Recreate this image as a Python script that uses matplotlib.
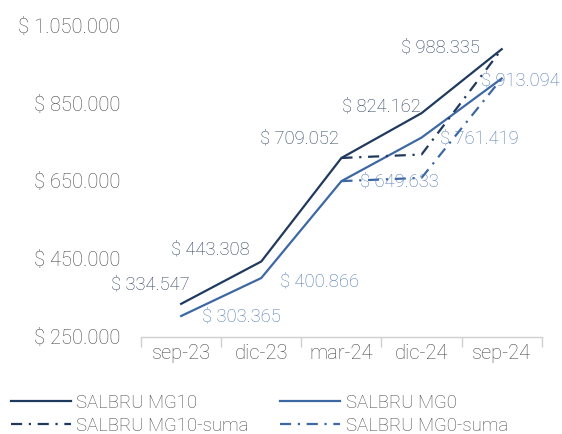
import numpy as np
import matplotlib.pyplot as plt

plt.rcParams['font.family'] = ['Roboto', 'DejaVu Sans']

# datos
periodos = ['sep-23', 'dic-23', 'mar-24', 'dic-24', 'sep-24']
mg10 = [334547, 443308, 709052, 824162, 988335]
mg0 = [303365, 400866, 649633, 761419, 913094]
mg10_suma = [np.nan, np.nan, 709052, 718000, 988335]
mg0_suma = [np.nan, np.nan, 649633, 658000, 913094]

c_dark = '#203a5e'
c_blue = '#3d68a3'
c_lbl_dark = '#2b3f5e'
c_lbl_blue = '#4f78b2'
c_txt = '#484848'


def fmt(v):
    return '$ ' + f'{v:,.0f}'.replace(',', '.')


fig = plt.figure(figsize=(5.62, 4.34), dpi=100)
ax = fig.add_axes([0.251, 0.224, 0.713, 0.718])

x = np.arange(len(periodos))
l1, = ax.plot(x, mg10, color=c_dark, lw=1.6, label='SALBRU MG10')
l2, = ax.plot(x, mg0, color=c_blue, lw=1.6, label='SALBRU MG0')
l3, = ax.plot(x, mg10_suma, color=c_dark, lw=1.6, dashes=(5, 3, 1, 3),
              label='SALBRU MG10-suma')
l4, = ax.plot(x, mg0_suma, color=c_blue, lw=1.6, dashes=(5, 3, 1, 3),
              label='SALBRU MG0-suma')

# etiquetas de datos (desplazamientos en pixeles)
off10 = [(-31, 19), (-51, 12), (-42, 19), (-40, 7), (-61, 2)]
off0 = [(60, -1), (58, -3), (58, 0), (58, -1), (19, -2)]
fs = 13.2
for i in range(len(periodos)):
    ax.annotate(fmt(mg10[i]), (x[i], mg10[i]), xytext=off10[i],
                textcoords='offset pixels', ha='center', va='center',
                fontsize=fs, color=c_lbl_dark, fontweight='light')
    ax.annotate(fmt(mg0[i]), (x[i], mg0[i]), xytext=off0[i],
                textcoords='offset pixels', ha='center', va='center',
                fontsize=fs, color=c_lbl_blue, fontweight='light')

ax.set_xlim(-0.5, len(periodos) - 0.5)
ax.set_ylim(250000, 1050000)
ax.set_yticks(np.arange(250000, 1050001, 200000))
ax.set_yticklabels([fmt(v) for v in ax.get_yticks()])

ax.set_xticks(x)
ax.set_xticklabels(periodos)
ax.set_xticks(np.arange(-0.5, len(periodos), 1), minor=True)
ax.tick_params(axis='x', which='major', length=0, pad=5, labelsize=14.5, labelcolor=c_txt)
ax.tick_params(axis='x', which='minor', length=7, color='#d0d0d0', width=1)
ax.tick_params(axis='y', length=0, pad=15, labelsize=14.5, labelcolor=c_txt)
for lab in ax.get_xticklabels() + ax.get_yticklabels():
    lab.set_fontweight('light')

for s in ['top', 'right', 'left']:
    ax.spines[s].set_visible(False)
ax.spines['bottom'].set_color('#d0d0d0')
ax.spines['bottom'].set_linewidth(1)

leg = fig.legend(handles=[l1, l3, l2, l4], ncol=2, loc='lower left',
                 bbox_to_anchor=(0.0, -0.028), frameon=False, fontsize=13.4,
                 handlelength=3.2, handletextpad=0.3, columnspacing=1.7,
                 labelspacing=0.28, borderaxespad=0.2)
for t in leg.get_texts():
    t.set_color(c_txt)
    t.set_fontweight('light')

fig.savefig('out.png', dpi=100)
